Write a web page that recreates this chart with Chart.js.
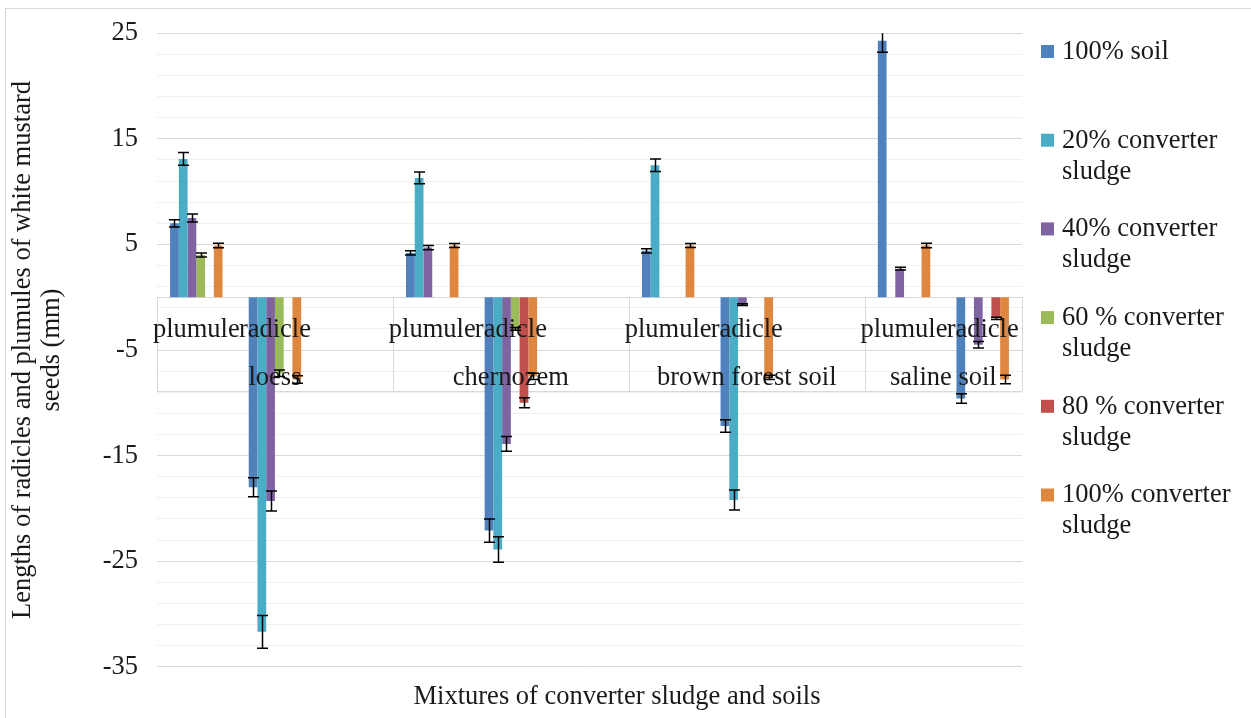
<!DOCTYPE html>
<html>
<head>
<meta charset="utf-8">
<script src="https://cdn.jsdelivr.net/npm/chart.js@4.4.0/dist/chart.umd.min.js"></script>
<style>
  html, body { margin: 0; padding: 0; background: #fff; }
  #cv_chart01 { display: block; }
</style>
</head>
<body>
<canvas id="cv_chart01" width="1251" height="718"></canvas>
<script>
// categories: plumule / radicle per soil, blank slot between soils
const categories = ['plumule', 'radicle', '', 'plumule', 'radicle', '', 'plumule', 'radicle', '', 'plumule', 'radicle'];
const soils = ['loess', 'chernozem', 'brown forest soil', 'saline soil'];
const soilStart = [0, 3, 6, 9];

const seriesNames = ['100% soil', '20% converter sludge', '40% converter sludge', '60 % converter sludge', '80 % converter sludge', '100% converter sludge'];
const seriesColors = ['#4F81BD', '#4BACC6', '#8064A2', '#9BBB59', '#C0504D', '#E0873F'];

const soil100 =   [7.0, -18.0, null, 4.2, -22.1, null, 4.4, -12.2, null, 24.3, -9.6];
const sludge20 =  [13.1, -31.7, null, 11.3, -23.9, null, 12.5, -19.2, null, 0, 0];
const sludge40 =  [7.5, -19.3, null, 4.7, -13.9, null, 0, -0.7, null, 2.7, -4.5];
const sludge60 =  [4.0, -7.2, null, 0, -3.0, null, 0, 0, null, 0, 0];
const sludge80 =  [0, 0, null, 0, -10.0, null, 0, 0, null, 0, -2.0];
const sludge100 = [4.9, -7.8, null, 4.9, -7.5, null, 4.9, -7.6, null, 4.9, -7.8];

const err100 =    [0.35, 0.9, null, 0.2, 1.1, null, 0.2, 0.6, null, 1.1, 0.45];
const err20 =     [0.6, 1.55, null, 0.55, 1.2, null, 0.6, 0.95, null, 0, 0];
const err40 =     [0.38, 0.95, null, 0.2, 0.7, null, 0, 0.08, null, 0.13, 0.3];
const err60 =     [0.2, 0.3, null, 0, 0.12, null, 0, 0, null, 0, 0];
const err80 =     [0, 0, null, 0, 0.47, null, 0, 0, null, 0, 0.1];
const err100cs =  [0.22, 0.35, null, 0.2, 0.3, null, 0.2, 0.2, null, 0.22, 0.4];

const yTickLabels = [25, 15, 5, -5, -15, -25, -35];
const yMin = -35;
const yMax = 25;
const yMinorStep = 2;

const xTitle = 'Mixtures of converter sludge and soils';
const yTitle = ['Lengths of radicles and plumules of white mustard', 'seeds (mm)'];

const seriesValues = [soil100, sludge20, sludge40, sludge60, sludge80, sludge100];
const seriesErrors = [err100, err20, err40, err60, err80, err100cs];

const FONT = "'Liberation Serif', 'Times New Roman', serif";
const FONT_SIZE = 26.5;
const TEXT_COLOR = '#1a1a1a';

let chart_01;

const boxGeom = (chart) => {
    const x = chart.scales.x;
    const area = chart.chartArea;
    const zeroY = Math.round(chart.scales.y.getPixelForValue(0)) + 0.5;
    const half = (x.getPixelForValue(1) - x.getPixelForValue(0)) / 2;
    const edges = soilStart.map(i => x.getPixelForValue(i) - half);
    edges.push(area.right);
    return { x, area, zeroY, rowY: zeroY + 53, bottomY: zeroY + 94, edges };
};

const categoryBox = {
    id: 'categoryBox',
    beforeDatasetsDraw(chart) {
        const ctx = chart.ctx;
        const g = boxGeom(chart);
        ctx.save();
        ctx.strokeStyle = '#d9d9d9';
        ctx.lineWidth = 1;
        ctx.beginPath();
        [g.zeroY, g.rowY, g.bottomY].forEach(yy => {
            ctx.moveTo(g.area.left, yy);
            ctx.lineTo(g.area.right, yy);
        });
        g.edges.forEach(ex => {
            const px = Math.round(ex) + 0.5;
            ctx.moveTo(px, g.zeroY);
            ctx.lineTo(px, g.bottomY);
        });
        ctx.stroke();
        ctx.restore();
    },
    afterDatasetsDraw(chart) {
        // labels sit on top of the bars, as in the original
        const ctx = chart.ctx;
        const g = boxGeom(chart);
        ctx.save();
        ctx.fillStyle = TEXT_COLOR;
        ctx.font = FONT_SIZE + 'px ' + FONT;
        ctx.textAlign = 'center';
        ctx.textBaseline = 'middle';
        categories.forEach((c, i) => {
            if (c) ctx.fillText(c, g.x.getPixelForValue(i), g.zeroY + 33);
        });
        soils.forEach((s, i) => {
            ctx.fillText(s, (g.edges[i] + g.edges[i + 1]) / 2, g.rowY + 28);
        });
        // x axis title, a little right of the plot centre like the original
        ctx.fillText(xTitle, 617, 697);
        ctx.restore();
    }
};

const errorBars = {
    id: 'errorBars',
    afterDatasetsDraw(chart) {
        const ctx = chart.ctx;
        const y = chart.scales.y;
        const area = chart.chartArea;
        ctx.save();
        ctx.beginPath();
        ctx.rect(area.left, area.top, area.right - area.left, area.bottom - area.top);
        ctx.clip();
        ctx.strokeStyle = '#000';
        ctx.lineWidth = 1.5;
        chart.data.datasets.forEach((ds, di) => {
            const meta = chart.getDatasetMeta(di);
            meta.data.forEach((bar, i) => {
                const v = ds.data[i];
                const e = seriesErrors[di][i];
                if (v === null || !e) return;
                const top = y.getPixelForValue(v + e);
                const bot = y.getPixelForValue(v - e);
                const cx = Math.round(bar.x) + 0.5;
                ctx.beginPath();
                ctx.moveTo(cx, top);
                ctx.lineTo(cx, bot);
                ctx.moveTo(cx - 5.5, top);
                ctx.lineTo(cx + 5.5, top);
                ctx.moveTo(cx - 5.5, bot);
                ctx.lineTo(cx + 5.5, bot);
                ctx.stroke();
            });
        });
        ctx.restore();
    }
};

const wrapText = (ctx, text, maxWidth) => {
    const words = text.split(' ');
    const lines = [];
    let line = '';
    words.forEach(w => {
        const test = line ? line + ' ' + w : w;
        if (line && ctx.measureText(test).width > maxWidth) {
            lines.push(line);
            line = w;
        } else {
            line = test;
        }
    });
    if (line) lines.push(line);
    return lines;
};

const sideLegend = {
    id: 'sideLegend',
    afterDraw(chart) {
        const ctx = chart.ctx;
        ctx.save();
        // outer frame
        ctx.strokeStyle = '#d9d9d9';
        ctx.lineWidth = 1;
        ctx.strokeRect(5.5, 8.5, 1260, 720);

        ctx.font = FONT_SIZE + 'px ' + FONT;
        ctx.textAlign = 'left';
        ctx.textBaseline = 'middle';
        chart.data.datasets.forEach((ds, i) => {
            const y0 = 52 + i * 88.7;
            ctx.fillStyle = ds.backgroundColor;
            ctx.fillRect(1041, y0 - 7, 13, 13);
            ctx.fillStyle = TEXT_COLOR;
            wrapText(ctx, ds.label, 175).forEach((ln, k) => {
                ctx.fillText(ln, 1062, y0 + k * 31);
            });
        });
        ctx.restore();
    }
};

const init_chart_01 = () => {
    const ctx01 = document.getElementById('cv_chart01').getContext('2d');
    if (chart_01 !== undefined) chart_01.destroy();
    chart_01 = new Chart(ctx01, {
        type: 'bar',
        data: {
            labels: categories,
            datasets: seriesValues.map((vals, i) => ({
                label: seriesNames[i],
                data: vals,
                backgroundColor: seriesColors[i],
                borderWidth: 0,
                categoryPercentage: 0.667,
                barPercentage: 1
            }))
        },
        options: {
            responsive: false,
            animation: false,
            devicePixelRatio: 1,
            layout: {
                padding: { top: 33.3, right: 229, left: 0, bottom: 0 }
            },
            plugins: {
                legend: { display: false },
                tooltip: { enabled: false }
            },
            scales: {
                x: {
                    grid: { display: false },
                    border: { display: false },
                    ticks: { display: false },
                    title: { display: false },
                    afterFit: s => {
                        s.height = 51.3;
                        s.paddingLeft = 0;
                        s.paddingRight = 0;
                    }
                },
                y: {
                    min: yMin,
                    max: yMax,
                    afterBuildTicks: s => {
                        const t = [];
                        for (let v = yMin; v <= yMax; v += yMinorStep) t.push({ value: v });
                        s.ticks = t;
                    },
                    ticks: {
                        autoSkip: false,
                        color: TEXT_COLOR,
                        font: { family: FONT, size: FONT_SIZE },
                        padding: 19,
                        callback: v => yTickLabels.includes(v) ? String(v) : ''
                    },
                    grid: {
                        drawTicks: false,
                        lineWidth: 1,
                        color: c => yTickLabels.includes(c.tick.value) ? '#d9d9d9' : '#f0f0f0'
                    },
                    border: { display: false },
                    title: {
                        display: true,
                        text: yTitle,
                        color: TEXT_COLOR,
                        font: { family: FONT, size: FONT_SIZE, lineHeight: 1.1 },
                        padding: { top: 8, bottom: 0 }
                    },
                    afterFit: s => {
                        s.width = 157;
                        s.paddingTop = 0;
                        s.paddingBottom = 0;
                    }
                }
            }
        },
        plugins: [categoryBox, errorBars, sideLegend]
    });
};

init_chart_01();
</script>
</body>
</html>
